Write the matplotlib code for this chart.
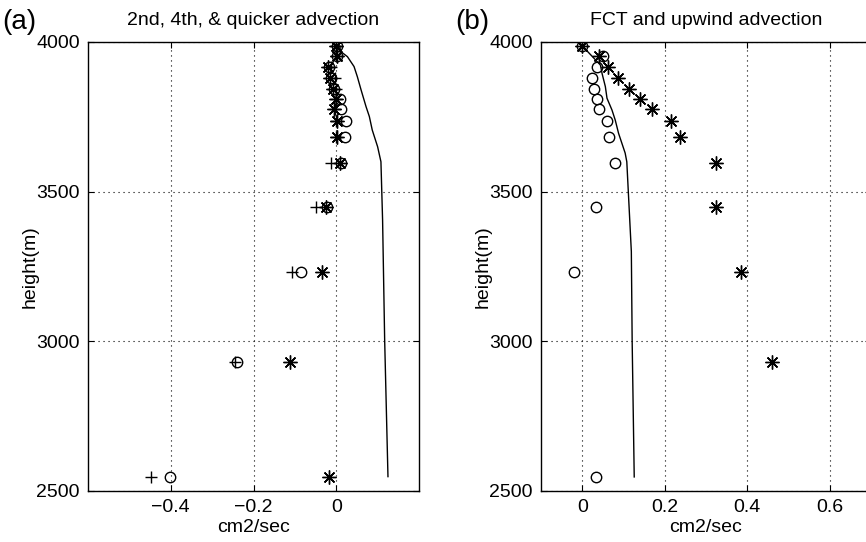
import matplotlib
matplotlib.use('Agg')
import matplotlib.pyplot as plt
import numpy as np

plt.rcParams['font.family'] = ['Liberation Sans', 'DejaVu Sans']
plt.rcParams['font.size'] = 14

# model levels (m)
z = [3987, 3953, 3917, 3880, 3843, 3810, 3776, 3736, 3683, 3596, 3449, 3232, 2931, 2547]

# (a) 2nd (+), 4th (o), quicker (*)
a_plus = [0.0, 0.0, -0.012, -0.004, 0.0, 0.0, -0.003, 0.0, 0.0, -0.012, -0.050, -0.108, -0.245, -0.448]
a_circ = [0.002, 0.003, -0.018, -0.012, -0.005, 0.010, 0.012, 0.023, 0.021, 0.012, -0.022, -0.084, -0.240, -0.402]
a_star = [0.0, 0.001, -0.020, -0.015, -0.008, 0.0, -0.005, 0.003, 0.002, 0.008, -0.024, -0.034, -0.111, -0.017]

# reference profile, panel (a)
a_line_z = [3987, 3968, 3951, 3918, 3884, 3840, 3784, 3751, 3706, 3650, 3600, 3405, 3005, 2548]
a_line_x = [0.008, 0.011, 0.027, 0.043, 0.051, 0.060, 0.072, 0.080, 0.087, 0.100, 0.108, 0.112, 0.117, 0.125]

# (b) FCT (o), upwind (*)
b_circ_z = [3987, 3953, 3917, 3880, 3843, 3810, 3776, 3736, 3683, 3596, 3449, 3232, 2547]
b_circ = [0.0, 0.051, 0.036, 0.024, 0.029, 0.036, 0.041, 0.061, 0.065, 0.080, 0.034, -0.019, 0.034]
b_star_z = [3987, 3953, 3917, 3880, 3843, 3810, 3776, 3736, 3683, 3596, 3449, 3232, 2931]
b_star = [0.0, 0.041, 0.063, 0.087, 0.114, 0.141, 0.170, 0.214, 0.238, 0.324, 0.324, 0.386, 0.459]

b_line_z = [3987, 3923, 3895, 3851, 3812, 3773, 3739, 3695, 3629, 3600, 3300, 3000, 2547]
b_line_x = [0.0, 0.044, 0.048, 0.056, 0.060, 0.072, 0.080, 0.088, 0.104, 0.108, 0.119, 0.121, 0.126]

fig = plt.figure(figsize=(8.66, 5.42), dpi=100)
ax1 = fig.add_axes([88 / 866, 1 - 491 / 542, 331 / 866, 449 / 542])
ax2 = fig.add_axes([541 / 866, 1 - 491 / 542, 330 / 866, 449 / 542])

aster = (8, 2, 0)
mk = dict(linestyle='none', color='black', mfc='none', mew=1.0)

ax1.plot(a_line_x, a_line_z, color='black', lw=1.0)
ax1.plot(a_plus, z, marker='+', ms=8, **mk)
ax1.plot(a_circ, z, marker='o', ms=7.5, **mk)
ax1.plot(a_star, z, marker=aster, ms=10, **mk)

ax2.plot(b_line_x, b_line_z, color='black', lw=1.0)
ax2.plot(b_circ, b_circ_z, marker='o', ms=7.5, **mk)
ax2.plot(b_star, b_star_z, marker=aster, ms=10, **mk)

ax1.set_xlim(-0.6, 0.2)
ax1.set_xticks([-0.4, -0.2, 0])
ax1.set_xticklabels(['\u22120.4', '\u22120.2', '0'])
ax2.set_xlim(-0.1, 0.7)
ax2.set_xticks([0, 0.2, 0.4, 0.6])
ax2.set_xticklabels(['0', '0.2', '0.4', '0.6'])

for ax, title in [(ax1, '2nd, 4th, & quicker advection'),
                  (ax2, 'FCT and upwind advection')]:
    ax.set_ylim(2500, 4000)
    ax.set_yticks([2500, 3000, 3500, 4000])
    ax.grid(True, linestyle=(0, (1, 3.5)), color='black', linewidth=0.8)
    ax.tick_params(direction='in', top=True, right=True, length=4, pad=6)
    for s in ax.spines.values():
        s.set_linewidth(1.0)
    ax.set_xlabel('cm2/sec', labelpad=2)
    ax.set_ylabel('height(m)', labelpad=-2)
    ax.set_title(title, fontsize=14, pad=12)

fig.text(2 / 866, 1 - 22 / 542, '(a)', fontsize=20, va='center', ha='left')
fig.text(455 / 866, 1 - 22 / 542, '(b)', fontsize=20, va='center', ha='left')

fig.savefig('out.png', dpi=100)
